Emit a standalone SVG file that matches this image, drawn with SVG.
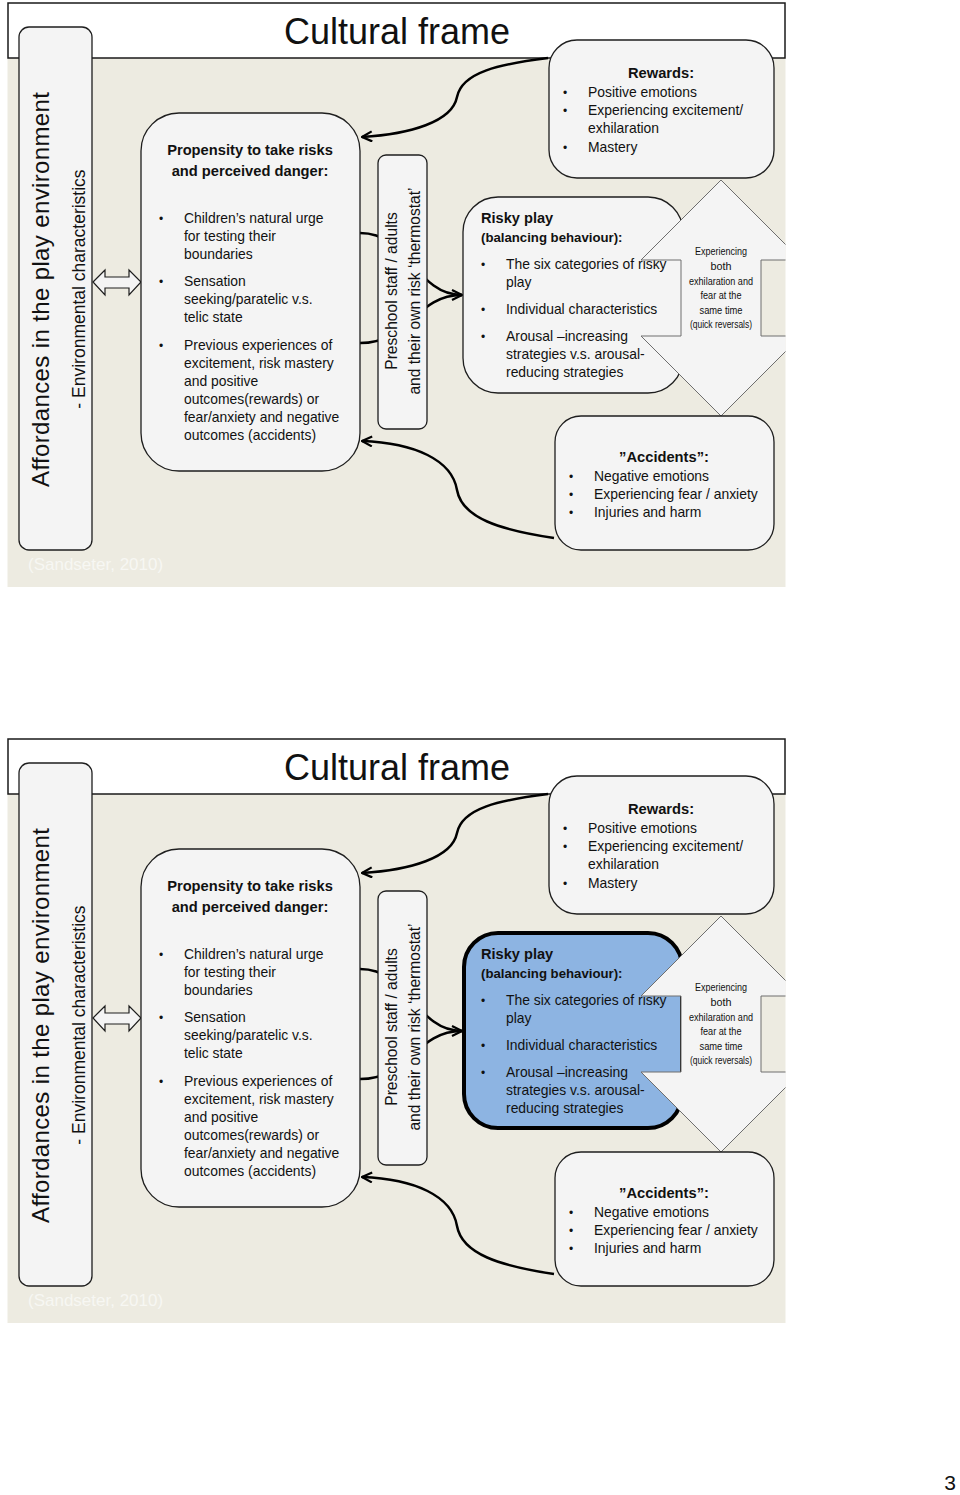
<svg xmlns="http://www.w3.org/2000/svg" width="960" height="1495" viewBox="0 0 960 1495">
<style>
.bg{fill:#EDEBE1}
.title{fill:#fff;stroke:#1a1a1a;stroke-width:1.5}
.box{fill:#F4F4F4;stroke:#1E1E1E;stroke-width:1.3}
.blue{fill:#8DB4E2;stroke:#000;stroke-width:4}
.dbl{fill:#F4F4F4;stroke:#1E1E1E;stroke-width:1.2}
.both{fill:#F4F4F4;stroke:#6e6e6e;stroke-width:1}
.t{font-family:"Liberation Sans",Arial,sans-serif;fill:#111}
.n{font-size:13.9px}
.h{font-size:14.7px;font-weight:bold}
.bu{font-size:12px}
.sm{font-size:11.5px}
.src{font-family:"Liberation Sans",Arial,sans-serif;font-size:17px;fill:#F7F7F3}
.conn{fill:none;stroke:#000;stroke-width:2.5}
</style>
<defs>
<marker id="arr" viewBox="0 0 12 12" refX="11" refY="6" markerWidth="12" markerHeight="12" markerUnits="userSpaceOnUse" orient="auto">
<path d="M1,1 L11,6 L1,11" fill="none" stroke="#000" stroke-width="2.2"/>
</marker>
<clipPath id="clipR"><rect x="0" y="0" width="785.5" height="1495"/></clipPath>
</defs>

<g id="panel-top">
<g id="p1-frame">
<rect class="bg" x="7.5" y="58" width="778" height="529"/>
<rect class="title" x="8" y="3" width="777" height="55"/>
<text class="t" x="397" y="44" font-size="36" text-anchor="middle">Cultural frame</text>
</g>
<g id="p1-connectors">
<path class="conn" d="M548,58 C500,64 462,72 457,97 C452,122 410,134 362,137" marker-end="url(#arr)"/>
<path class="conn" d="M554,538 C500,530 462,518 457,490 C452,460 415,443 362,441" marker-end="url(#arr)"/>
<path class="conn" d="M360,233 C410,233 415,295 462,295"/>
<path class="conn" d="M360,343 C410,343 415,295 462,295" marker-end="url(#arr)"/>
<polygon class="dbl" points="93,282 105,270 105,277 129,277 129,270 141,282 129,295 129,288 105,288 105,295"/>
</g>
<g id="p1-affordances">
<rect class="box" x="19" y="27" width="73" height="523" rx="10"/>
<text class="t" transform="translate(49,289.5) rotate(-90)" font-size="24" text-anchor="middle" textLength="395" lengthAdjust="spacing">Affordances  in  the play environment</text>
<text class="t" transform="translate(85,289) rotate(-90)" font-size="17.5" text-anchor="middle">- Environmental characteristics</text>
</g>
<g id="p1-propensity">
<rect class="box" x="141" y="113" width="219" height="358" rx="38"/>
<text class="t h" x="250" y="155" text-anchor="middle">Propensity to take risks</text>
<text class="t h" x="250" y="176" text-anchor="middle">and perceived danger:</text>
<text class="t bu" x="159" y="223">•</text>
<text class="t n" x="184" y="223">Children’s natural urge</text>
<text class="t n" x="184" y="241">for testing their</text>
<text class="t n" x="184" y="259">boundaries</text>
<text class="t bu" x="159" y="286">•</text>
<text class="t n" x="184" y="286">Sensation</text>
<text class="t n" x="184" y="304">seeking/paratelic v.s.</text>
<text class="t n" x="184" y="322">telic state</text>
<text class="t bu" x="159" y="350">•</text>
<text class="t n" x="184" y="350">Previous experiences of</text>
<text class="t n" x="184" y="368">excitement, risk mastery</text>
<text class="t n" x="184" y="386">and positive</text>
<text class="t n" x="184" y="404">outcomes(rewards) or</text>
<text class="t n" x="184" y="422">fear/anxiety and negative</text>
<text class="t n" x="184" y="440">outcomes (accidents)</text>
</g>
<g id="p1-thermostat">
<rect class="box" x="378" y="155" width="49" height="274" rx="8"/>
<text class="t" transform="translate(397,291) rotate(-90)" font-size="15.6" text-anchor="middle">Preschool staff / adults</text>
<text class="t" transform="translate(420,291) rotate(-90)" font-size="15.6" text-anchor="middle">and their own risk ‘thermostat’</text>
</g>
<g id="p1-riskyplay">
<rect class="box" x="463" y="197" width="220" height="196" rx="35"/>
<text class="t" x="481" y="223" font-size="14.6" font-weight="bold">Risky play</text>
<text class="t" x="481" y="242" font-size="13.2" font-weight="bold">(balancing behaviour):</text>
<text class="t bu" x="481" y="269">•</text>
<text class="t n" x="506" y="269">The six categories of risky</text>
<text class="t n" x="506" y="287">play</text>
<text class="t bu" x="481" y="314">•</text>
<text class="t n" x="506" y="314">Individual characteristics</text>
<text class="t bu" x="481" y="341">•</text>
<text class="t n" x="506" y="341">Arousal –increasing</text>
<text class="t n" x="506" y="359">strategies v.s. arousal-</text>
<text class="t n" x="506" y="377">reducing strategies</text>
</g>
<g id="p1-both">
<polygon class="both" clip-path="url(#clipR)" points="721,180 801,260 761,260 761,336 801,336 721,416 641,336 681,336 681,260 641,260"/>
<text class="t sm" x="721" y="255" text-anchor="middle" textLength="52" lengthAdjust="spacingAndGlyphs">Experiencing</text>
<text class="t sm" x="721" y="269.5" text-anchor="middle" textLength="21" lengthAdjust="spacingAndGlyphs">both</text>
<text class="t sm" x="721" y="284.5" text-anchor="middle" textLength="64" lengthAdjust="spacingAndGlyphs">exhilaration and</text>
<text class="t sm" x="721" y="299" text-anchor="middle" textLength="41" lengthAdjust="spacingAndGlyphs">fear at the</text>
<text class="t sm" x="721" y="313.5" text-anchor="middle" textLength="43" lengthAdjust="spacingAndGlyphs">same time</text>
<text class="t sm" x="721" y="328" text-anchor="middle" textLength="62" lengthAdjust="spacingAndGlyphs">(quick reversals)</text>
</g>
<g id="p1-rewards">
<rect class="box" x="549" y="40" width="225" height="138" rx="28"/>
<text class="t h" x="661" y="78" text-anchor="middle">Rewards:</text>
<text class="t bu" x="563" y="97">•</text>
<text class="t n" x="588" y="97">Positive emotions</text>
<text class="t bu" x="563" y="115">•</text>
<text class="t n" x="588" y="115">Experiencing excitement/</text>
<text class="t n" x="588" y="133">exhilaration</text>
<text class="t bu" x="563" y="152">•</text>
<text class="t n" x="588" y="152">Mastery</text>
</g>
<g id="p1-accidents">
<rect class="box" x="555" y="416" width="219" height="134" rx="26"/>
<text class="t h" x="664" y="462" text-anchor="middle">”Accidents”:</text>
<text class="t bu" x="569" y="481">•</text>
<text class="t n" x="594" y="481">Negative emotions</text>
<text class="t bu" x="569" y="499">•</text>
<text class="t n" x="594" y="499">Experiencing fear / anxiety</text>
<text class="t bu" x="569" y="517">•</text>
<text class="t n" x="594" y="517">Injuries and harm</text>
</g>
<text class="src" x="28" y="570">(Sandseter, 2010)</text>
</g>

<g id="panel-bottom" transform="translate(0,736)">
<g id="p2-frame">
<rect class="bg" x="7.5" y="58" width="778" height="529"/>
<rect class="title" x="8" y="3" width="777" height="55"/>
<text class="t" x="397" y="44" font-size="36" text-anchor="middle">Cultural frame</text>
</g>
<g id="p2-connectors">
<path class="conn" d="M548,58 C500,64 462,72 457,97 C452,122 410,134 362,137" marker-end="url(#arr)"/>
<path class="conn" d="M554,538 C500,530 462,518 457,490 C452,460 415,443 362,441" marker-end="url(#arr)"/>
<path class="conn" d="M360,233 C410,233 415,295 462,295"/>
<path class="conn" d="M360,343 C410,343 415,295 462,295" marker-end="url(#arr)"/>
<polygon class="dbl" points="93,282 105,270 105,277 129,277 129,270 141,282 129,295 129,288 105,288 105,295"/>
</g>
<g id="p2-affordances">
<rect class="box" x="19" y="27" width="73" height="523" rx="10"/>
<text class="t" transform="translate(49,289.5) rotate(-90)" font-size="24" text-anchor="middle" textLength="395" lengthAdjust="spacing">Affordances  in  the play environment</text>
<text class="t" transform="translate(85,289) rotate(-90)" font-size="17.5" text-anchor="middle">- Environmental characteristics</text>
</g>
<g id="p2-propensity">
<rect class="box" x="141" y="113" width="219" height="358" rx="38"/>
<text class="t h" x="250" y="155" text-anchor="middle">Propensity to take risks</text>
<text class="t h" x="250" y="176" text-anchor="middle">and perceived danger:</text>
<text class="t bu" x="159" y="223">•</text>
<text class="t n" x="184" y="223">Children’s natural urge</text>
<text class="t n" x="184" y="241">for testing their</text>
<text class="t n" x="184" y="259">boundaries</text>
<text class="t bu" x="159" y="286">•</text>
<text class="t n" x="184" y="286">Sensation</text>
<text class="t n" x="184" y="304">seeking/paratelic v.s.</text>
<text class="t n" x="184" y="322">telic state</text>
<text class="t bu" x="159" y="350">•</text>
<text class="t n" x="184" y="350">Previous experiences of</text>
<text class="t n" x="184" y="368">excitement, risk mastery</text>
<text class="t n" x="184" y="386">and positive</text>
<text class="t n" x="184" y="404">outcomes(rewards) or</text>
<text class="t n" x="184" y="422">fear/anxiety and negative</text>
<text class="t n" x="184" y="440">outcomes (accidents)</text>
</g>
<g id="p2-thermostat">
<rect class="box" x="378" y="155" width="49" height="274" rx="8"/>
<text class="t" transform="translate(397,291) rotate(-90)" font-size="15.6" text-anchor="middle">Preschool staff / adults</text>
<text class="t" transform="translate(420,291) rotate(-90)" font-size="15.6" text-anchor="middle">and their own risk ‘thermostat’</text>
</g>
<g id="p2-riskyplay">
<rect class="blue" x="464" y="197" width="218" height="195" rx="34"/>
<text class="t" x="481" y="223" font-size="14.6" font-weight="bold">Risky play</text>
<text class="t" x="481" y="242" font-size="13.2" font-weight="bold">(balancing behaviour):</text>
<text class="t bu" x="481" y="269">•</text>
<text class="t n" x="506" y="269">The six categories of risky</text>
<text class="t n" x="506" y="287">play</text>
<text class="t bu" x="481" y="314">•</text>
<text class="t n" x="506" y="314">Individual characteristics</text>
<text class="t bu" x="481" y="341">•</text>
<text class="t n" x="506" y="341">Arousal –increasing</text>
<text class="t n" x="506" y="359">strategies v.s. arousal-</text>
<text class="t n" x="506" y="377">reducing strategies</text>
</g>
<g id="p2-both">
<polygon class="both" clip-path="url(#clipR)" points="721,180 801,260 761,260 761,336 801,336 721,416 641,336 681,336 681,260 641,260"/>
<text class="t sm" x="721" y="255" text-anchor="middle" textLength="52" lengthAdjust="spacingAndGlyphs">Experiencing</text>
<text class="t sm" x="721" y="269.5" text-anchor="middle" textLength="21" lengthAdjust="spacingAndGlyphs">both</text>
<text class="t sm" x="721" y="284.5" text-anchor="middle" textLength="64" lengthAdjust="spacingAndGlyphs">exhilaration and</text>
<text class="t sm" x="721" y="299" text-anchor="middle" textLength="41" lengthAdjust="spacingAndGlyphs">fear at the</text>
<text class="t sm" x="721" y="313.5" text-anchor="middle" textLength="43" lengthAdjust="spacingAndGlyphs">same time</text>
<text class="t sm" x="721" y="328" text-anchor="middle" textLength="62" lengthAdjust="spacingAndGlyphs">(quick reversals)</text>
</g>
<g id="p2-rewards">
<rect class="box" x="549" y="40" width="225" height="138" rx="28"/>
<text class="t h" x="661" y="78" text-anchor="middle">Rewards:</text>
<text class="t bu" x="563" y="97">•</text>
<text class="t n" x="588" y="97">Positive emotions</text>
<text class="t bu" x="563" y="115">•</text>
<text class="t n" x="588" y="115">Experiencing excitement/</text>
<text class="t n" x="588" y="133">exhilaration</text>
<text class="t bu" x="563" y="152">•</text>
<text class="t n" x="588" y="152">Mastery</text>
</g>
<g id="p2-accidents">
<rect class="box" x="555" y="416" width="219" height="134" rx="26"/>
<text class="t h" x="664" y="462" text-anchor="middle">”Accidents”:</text>
<text class="t bu" x="569" y="481">•</text>
<text class="t n" x="594" y="481">Negative emotions</text>
<text class="t bu" x="569" y="499">•</text>
<text class="t n" x="594" y="499">Experiencing fear / anxiety</text>
<text class="t bu" x="569" y="517">•</text>
<text class="t n" x="594" y="517">Injuries and harm</text>
</g>
<text class="src" x="28" y="570">(Sandseter, 2010)</text>
</g>

<text class="t" x="956" y="1490" font-size="21" fill="#222" text-anchor="end">3</text>
</svg>
